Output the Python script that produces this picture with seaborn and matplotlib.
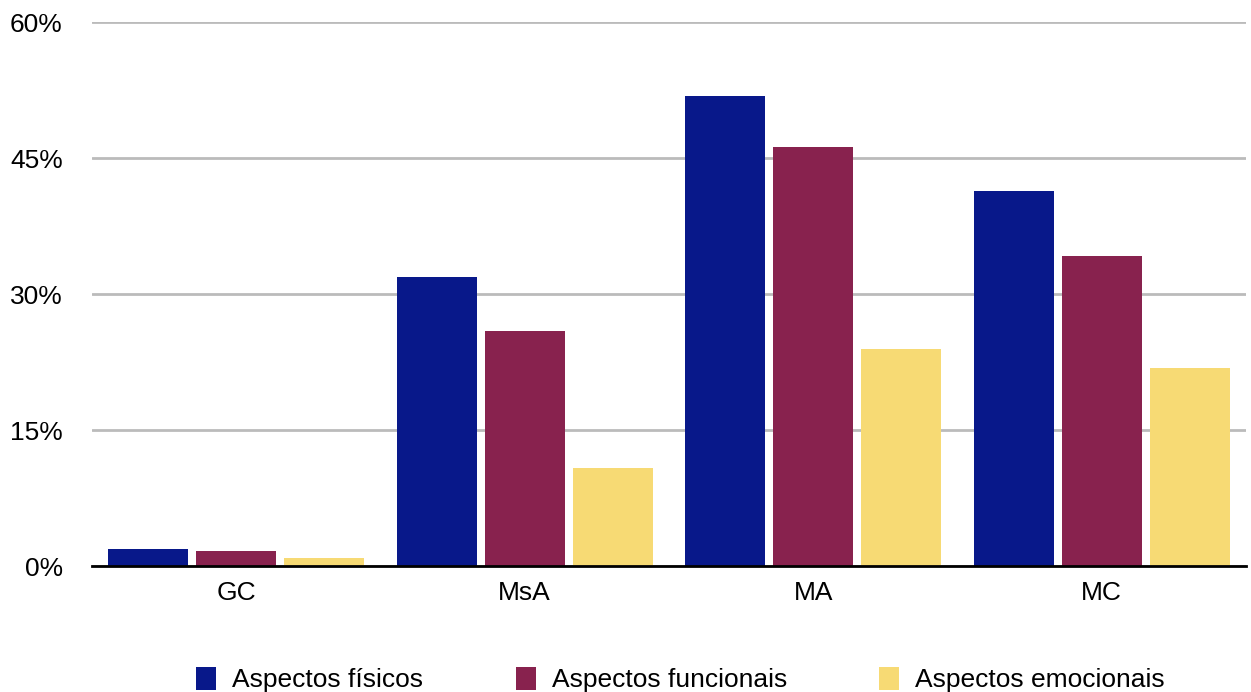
"""
Grouped bar chart: aspectos por grupo
"""
import pandas as pd
import seaborn as sns
import matplotlib.pyplot as plt
from matplotlib.ticker import FuncFormatter

groups = ['GC', 'MsA', 'MA', 'MC']
series = ['Aspectos físicos', 'Aspectos funcionais', 'Aspectos emocionais']
fisicos = [1.9, 31.9, 51.8, 41.4]
funcionais = [1.7, 25.9, 46.2, 34.2]
emocionais = [0.9, 10.8, 23.9, 21.9]
yticks = [0, 15, 30, 45, 60]

colors = ['#08188A', '#88224E', '#F7DA74']


def main():
    df = pd.DataFrame({
        'grupo': groups * 3,
        'aspecto': [s for s in series for _ in groups],
        'valor': fisicos + funcionais + emocionais,
    })

    sns.set_style('white')
    plt.rcParams['font.family'] = ['Liberation Sans', 'DejaVu Sans']

    fig = plt.figure(figsize=(12.51, 6.92), dpi=100)
    ax = fig.add_axes([0.0735, 0.182, 0.9225, 0.786])

    sns.barplot(df, x='grupo', y='valor', hue='aspecto', hue_order=series,
                palette=colors, width=0.915, gap=0.09, saturation=1,
                linewidth=0, ax=ax)

    ax.set_ylim(0, 60)
    ax.set_xlim(-0.5, 3.5)
    ax.set_yticks(yticks)
    ax.yaxis.set_major_formatter(FuncFormatter(lambda v, p: f'{v:.0f}%'))
    ax.grid(axis='y', color='#BBBBBB', linewidth=2)
    ax.set_axisbelow(True)
    for side in ['top', 'right', 'left']:
        ax.spines[side].set_visible(False)
    ax.spines['bottom'].set_color('black')
    ax.spines['bottom'].set_linewidth(2)
    ax.spines['bottom'].set_zorder(5)
    ax.tick_params(axis='y', length=0, pad=21, labelsize=19, labelcolor='black')
    ax.tick_params(axis='x', length=0, pad=11, labelsize=19, labelcolor='black')
    ax.set_xlabel('')
    ax.set_ylabel('')

    ax.legend(loc='lower center', bbox_to_anchor=(0.51, -0.276), ncol=3,
              frameon=False, fontsize=19, handlelength=0.76, handleheight=0.95,
              handletextpad=0.6, columnspacing=3.5,
              labelcolor='black')

    plt.savefig('out.png', dpi=100)
    plt.clf()


if __name__ == "__main__":
    main()
